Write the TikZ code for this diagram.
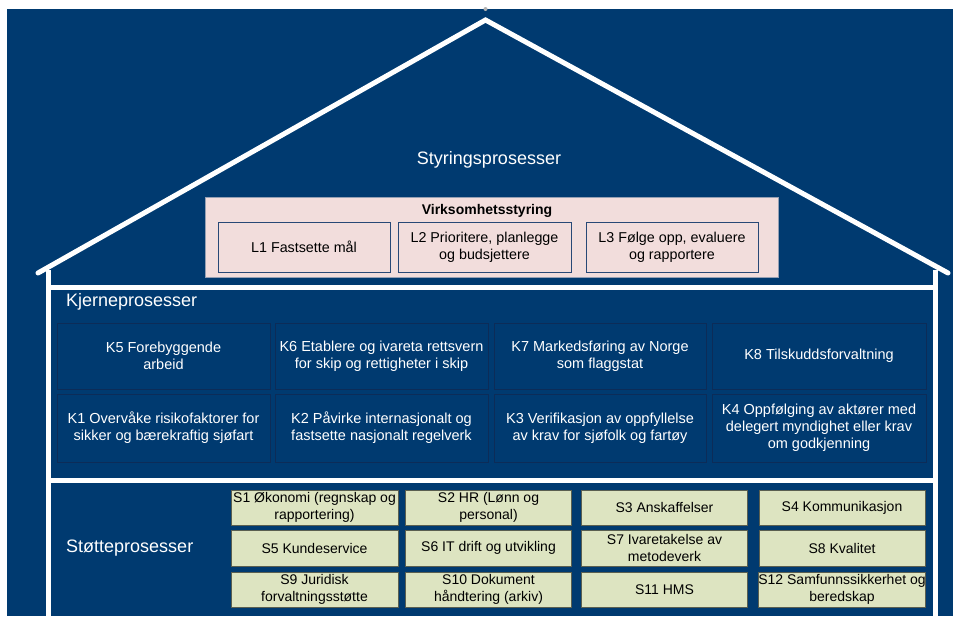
\documentclass[tikz,border=0pt]{standalone}
\usepackage{fontspec}
\setmainfont{Liberation Sans}
\definecolor{navy}{RGB}{0,58,112}
\definecolor{kborder}{RGB}{12,44,88}
\definecolor{pinkfill}{RGB}{242,221,220}
\definecolor{pinkborder}{RGB}{150,160,180}
\definecolor{lborder}{RGB}{40,72,118}
\definecolor{greenfill}{RGB}{221,228,193}
\definecolor{greenborder}{RGB}{90,95,80}
\begin{document}
\begin{tikzpicture}[x=1pt,y=-1pt,
  wall/.style={draw=white,line width=5pt},
  kbox/.style={draw=kborder,line width=1pt,fill=navy,text=white,align=center,
    inner sep=0pt,font=\fontsize{14.5}{16.8}\selectfont},
  lbox/.style={draw=lborder,line width=1pt,fill=pinkfill,text=black,align=center,
    inner sep=0pt,minimum width=172pt,minimum height=50pt,font=\fontsize{14.3}{17}\selectfont},
  sbox/.style={draw=greenborder,line width=0.6pt,fill=greenfill,text=black,align=center,
    inner sep=0pt,minimum width=166pt,minimum height=35pt,font=\fontsize{14}{17.5}\selectfont},
  title/.style={text=white,inner sep=0pt,font=\fontsize{18}{21}\selectfont}]
\useasboundingbox (0,0) rectangle (953,616);
\fill[white] (0,0) rectangle (953,616);
\fill[navy] (7,9) rectangle (953,616);
% roof and walls
\coordinate (apex) at (485.5,20);
\coordinate (eaveL) at (38,273);
\coordinate (eaveR) at (948,273);
\draw[wall,line join=miter,line cap=round] (eaveL) -- (apex) -- (eaveR);
\fill[gray!60] (485.5,9) circle (2pt);
\coordinate (wLt) at (48.5,270);
\coordinate (wLb) at (48.5,616);
\coordinate (wRt) at (935,270);
\coordinate (wRb) at (935,616);
\draw[wall] (wLt) -- (wLb);
\draw[wall] (wRt) -- (wRb);
\coordinate (h1L) at (48.5,287);
\coordinate (h1R) at (935,287);
\coordinate (h2L) at (48.5,480);
\coordinate (h2R) at (935,480);
\draw[wall] (h1L) -- (h1R);
\draw[wall] (h2L) -- (h2R);
% governance
\node[title] (styr) at (489,160) {Styringsprosesser};
\node[draw=pinkborder,line width=0.8pt,fill=pinkfill,minimum width=573pt,minimum height=80pt,inner sep=0pt] (virk) at (491.5,237) {};
\node[font=\bfseries\fontsize{14}{16}\selectfont,inner sep=0pt] (virkt) at (487,211) {Virksomhetsstyring};
\node[lbox] (L1) at (304,247) {L1 Fastsette mål};
\node[lbox,minimum width=173pt] (L2) at (484.5,247) {L2 Prioritere, planlegge\\og budsjettere};
\node[lbox] (L3) at (672,247) {L3 Følge opp, evaluere\\og rapportere};
% core
\node[title,anchor=west] (kjerne) at (66,302) {Kjerneprosesser};
\tikzset{krow1/.style={kbox,minimum width=213pt,minimum height=66pt},
         krow2/.style={kbox,minimum width=213pt,minimum height=68pt}}
\node[krow1] (K5) at (163.5,356) {K5 Forebyggende\\arbeid};
\node[krow1] (K6) at (381.5,356) {K6 Etablere og ivareta rettsvern\\for skip og rettigheter i skip};
\node[krow1,minimum width=212pt] (K7) at (600,356) {K7 Markedsføring av Norge\\som flaggstat};
\node[krow1,minimum width=214pt] (K8) at (819,356) {K8 Tilskuddsforvaltning};
\node[krow2] (K1) at (163.5,428) {K1 Overvåke risikofaktorer for\\sikker og bærekraftig sjøfart};
\node[krow2] (K2) at (381.5,428) {K2 Påvirke internasjonalt og\\fastsette nasjonalt regelverk};
\node[krow2,minimum width=212pt] (K3) at (600,428) {K3 Verifikasjon av oppfyllelse\\av krav for sjøfolk og fartøy};
\node[krow2,minimum width=214pt] (K4) at (819,428) {K4 Oppfølging av aktører med\\delegert myndighet eller krav\\om godkjenning};
% support
\node[title,anchor=west] (stotte) at (66,548) {Støtteprosesser};
\node[sbox,minimum width=167pt] (S1) at (314.5,507.5) {S1 Økonomi (regnskap og\\rapportering)};
\node[sbox] (S2) at (488.5,507.5) {S2 HR (Lønn og\\personal)};
\node[sbox] (S3) at (664.5,507.5) {S3 Anskaffelser};
\node[sbox] (S4) at (842,507.5) {S4 Kommunikasjon};
\node[sbox,minimum width=167pt,minimum height=36pt] (S5) at (314.5,548) {S5 Kundeservice};
\node[sbox,minimum height=36pt] (S6) at (488.5,548) {S6 IT drift og utvikling};
\node[sbox,minimum height=36pt] (S7) at (664.5,548) {S7 Ivaretakelse av\\metodeverk};
\node[sbox,minimum height=36pt] (S8) at (842,548) {S8 Kvalitet};
\node[sbox,minimum width=167pt] (S9) at (314.5,589.5) {S9 Juridisk\\forvaltningsstøtte};
\node[sbox] (S10) at (488.5,589.5) {S10 Dokument\\håndtering (arkiv)};
\node[sbox] (S11) at (664.5,589.5) {S11 HMS};
\node[sbox] (S12) at (842,589.5) {S12 Samfunnssikkerhet og\\beredskap};
\end{tikzpicture}
\end{document}
